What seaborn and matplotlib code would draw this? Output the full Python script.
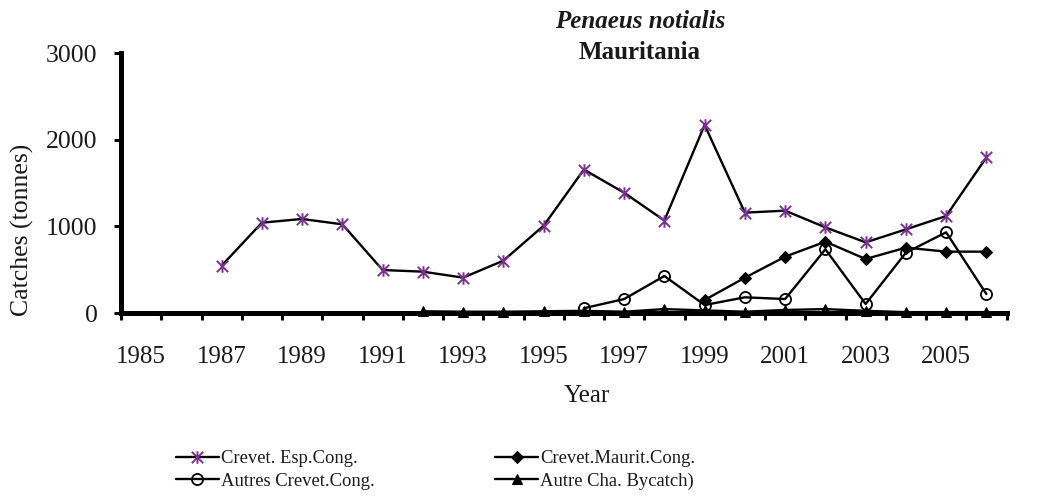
import numpy as np
import pandas as pd
import matplotlib
matplotlib.use("Agg")
import matplotlib.pyplot as plt
from matplotlib.path import Path
import seaborn as sns

# Annual catches (tonnes) of Penaeus notialis, Mauritania
esp_years = list(range(1987, 2007))
esp_catch = [546, 1042, 1085, 1023, 496, 477, 408, 604, 1007, 1655,
             1388, 1067, 2169, 1158, 1181, 988, 815, 965, 1119, 1795]

maurit_years = list(range(1999, 2007))
maurit_catch = [150, 407, 650, 823, 623, 754, 708, 708]

autres_years = list(range(1996, 2007))
autres_catch = [55, 161, 427, 92, 181, 161, 735, 104, 696, 931, 219]

bycatch_years = list(range(1992, 2007))
bycatch_catch = [20, 15, 15, 20, 25, 15, 45, 30, 15, 35, 45, 25, 10, 10, 10]

series_names = ["Crevet. Esp.Cong.", "Crevet.Maurit.Cong.",
                "Autres Crevet.Cong.", "Autre Cha. Bycatch)"]
tick_years = list(range(1985, 2007, 2))
y_ticks = [0, 1000, 2000, 3000]

sns.set_theme(style="white")
plt.rcParams["font.family"] = ["Liberation Serif", "DejaVu Serif"]
plt.rcParams["text.color"] = "#1a1a1a"

purple = "#7d2f95"

# asterisk marker: an X crossed by a vertical bar
asterisk = Path(
    [(-0.5, -0.5), (0.5, 0.5), (-0.5, 0.5), (0.5, -0.5), (0, -0.55), (0, 0.55)],
    [Path.MOVETO, Path.LINETO, Path.MOVETO, Path.LINETO, Path.MOVETO, Path.LINETO],
)

fig = plt.figure(figsize=(10.39, 4.99), dpi=100)
ax = fig.add_axes([121 / 1039, 1 - 313 / 499, 885.5 / 1039, 260 / 499])

frames = {
    "esp": pd.DataFrame({"year": esp_years, "catch": esp_catch}),
    "maurit": pd.DataFrame({"year": maurit_years, "catch": maurit_catch}),
    "autres": pd.DataFrame({"year": autres_years, "catch": autres_catch}),
    "bycatch": pd.DataFrame({"year": bycatch_years, "catch": bycatch_catch}),
}

line_kw = dict(color="black", linewidth=1.7, clip_on=False)

sns.lineplot(data=frames["esp"], x="year", y="catch", ax=ax,
             marker=asterisk, markersize=9, markeredgewidth=1.4,
             markeredgecolor=purple, markerfacecolor="none",
             label=series_names[0], **line_kw)
sns.lineplot(data=frames["maurit"], x="year", y="catch", ax=ax,
             marker="D", markersize=6.5, markeredgecolor="black",
             markerfacecolor="black", label=series_names[1], **line_kw)
sns.lineplot(data=frames["autres"], x="year", y="catch", ax=ax,
             marker="o", markersize=8, markeredgewidth=1.3,
             markeredgecolor="black", markerfacecolor="none",
             label=series_names[2], **line_kw)
sns.lineplot(data=frames["bycatch"], x="year", y="catch", ax=ax,
             marker="^", markersize=7, markeredgecolor="black",
             markerfacecolor="black", label=series_names[3], **line_kw)

ax.set_xlim(1984.5, 2006.5)
ax.set_ylim(0, 3000)

# tick marks sit between categories; year labels sit at category centres
ax.set_xticks(np.arange(1984.5, 2007, 1.0))
ax.set_xticklabels([])
ax.set_xticks(tick_years, [str(y) for y in tick_years], minor=True)
ax.tick_params(axis="x", which="major", direction="out", length=5, width=2.2,
               color="black", bottom=True)
ax.tick_params(axis="x", which="minor", length=0, pad=24, labelsize=18,
               labelcolor="#1a1a1a", bottom=True)
ax.set_yticks(y_ticks, [str(v) for v in y_ticks])
ax.tick_params(axis="y", direction="out", length=5, width=2.2, pad=12,
               labelsize=18.5, labelcolor="#1a1a1a", left=True, color="black")

for side in ("top", "right"):
    ax.spines[side].set_visible(False)
for side in ("left", "bottom"):
    ax.spines[side].set_color("black")
    ax.spines[side].set_linewidth(3.6)
    ax.spines[side].set_zorder(1)

ax.set_xlabel("")
ax.set_ylabel("")
ax.grid(False)

fig.text(22 / 1039, 1 - 230 / 499, "Catches (tonnes)", rotation=90,
         ha="center", va="center", fontsize=18.5)
fig.text(587 / 1039, 1 - 402.5 / 499, "Year", ha="center", va="baseline",
         fontsize=18)
fig.text(640 / 1039, 1 - 27.5 / 499, "Penaeus notialis", ha="center",
         va="baseline", fontsize=18, fontweight="bold", fontstyle="italic")
fig.text(640 / 1039, 1 - 59 / 499, "Mauritania", ha="center",
         va="baseline", fontsize=18, fontweight="bold")

handles, labels = ax.get_legend_handles_labels()
ax.get_legend().remove()
order = [0, 2, 1, 3]
fig.legend([handles[i] for i in order], [labels[i] for i in order],
           ncol=2, loc="upper left", bbox_to_anchor=(176 / 1039, 1 - 450 / 499),
           frameon=False, fontsize=13.4, handlelength=2.3, handletextpad=0.1,
           columnspacing=6.5, labelspacing=0.3, borderaxespad=0, borderpad=0)

fig.savefig("out.png", dpi=100)
